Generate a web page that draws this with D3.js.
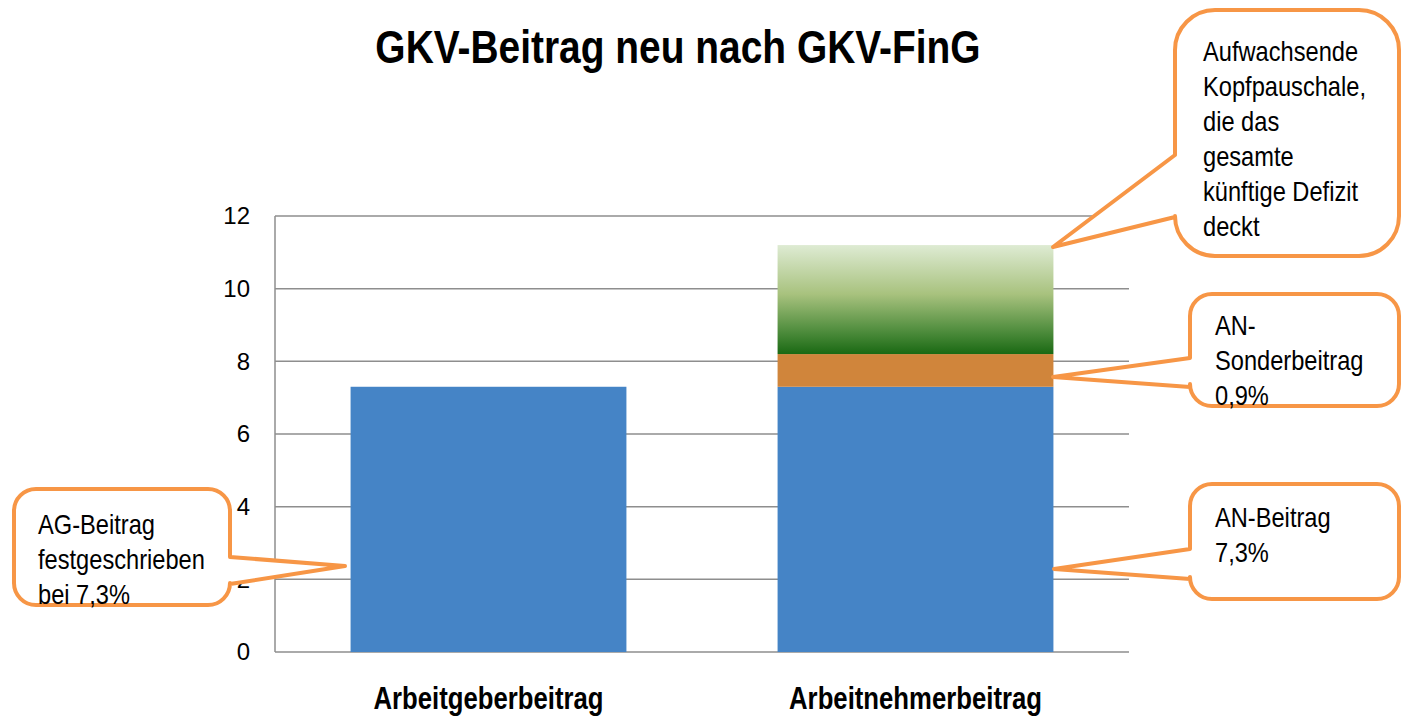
<!DOCTYPE html>
<html>
<head>
<meta charset="utf-8">
<script src="https://cdn.jsdelivr.net/npm/d3@7"></script>
<style>
  html, body { margin: 0; padding: 0; background: #fff; }
  svg { display: block; font-family: "Liberation Sans", Arial, sans-serif; }
</style>
</head>
<body>
<div id="chart"></div>
<script>
// data
const categories = ['Arbeitgeberbeitrag', 'Arbeitnehmerbeitrag'];
const beitrag = [7.3, 7.3];
const sonderbeitrag = [0, 0.9];
const kopfpauschale = [0, 3.0];
const yTicks = [0, 2, 4, 6, 8, 10, 12];
const title = 'GKV-Beitrag neu nach GKV-FinG';

const agText = ['AG-Beitrag', 'festgeschrieben', 'bei 7,3%'];
const kopfText = ['Aufwachsende', 'Kopfpauschale,', 'die das', 'gesamte', 'künftige Defizit', 'deckt'];
const sonderText = ['AN-', 'Sonderbeitrag', '0,9%'];
const anText = ['AN-Beitrag', '7,3%'];

const W = 1403, H = 718;
const NARROW = 0.83; // source font is a narrow sans

const svg = d3.select('#chart').append('svg')
  .attr('width', W).attr('height', H);

const x = d3.scaleBand().domain(categories).range([275, 1129])
  .paddingInner(0.354).paddingOuter(0.177);
const y = d3.scaleLinear().domain([0, 12]).range([652, 216]);

// gradient for the Kopfpauschale segment
const grad = svg.append('defs').append('linearGradient')
  .attr('id', 'kopfGrad').attr('x1', 0).attr('y1', 0).attr('x2', 0).attr('y2', 1);
[['0%', '#DEEBD3'], ['45%', '#A8C27E'], ['80%', '#4C8B3B'], ['100%', '#1A6913']]
  .forEach(([o, c]) => grad.append('stop').attr('offset', o).attr('stop-color', c));

// gridlines + axis frame
svg.append('g').selectAll('line').data(yTicks).enter().append('line')
  .attr('x1', 275).attr('x2', 1129)
  .attr('y1', d => y(d)).attr('y2', d => y(d))
  .attr('stroke', '#8E8E8E').attr('stroke-width', 1.5);
svg.append('line')
  .attr('x1', 275).attr('x2', 275).attr('y1', y(12)).attr('y2', y(0))
  .attr('stroke', '#8E8E8E').attr('stroke-width', 1.5);

// stacked bars
const table = categories.map((c, i) => ({
  cat: c, beitrag: beitrag[i], sonder: sonderbeitrag[i], kopf: kopfpauschale[i]
}));
const stack = d3.stack().keys(['beitrag', 'sonder', 'kopf'])(table);
const fills = { beitrag: '#4584C6', sonder: '#D0853B', kopf: 'url(#kopfGrad)' };

svg.append('g').selectAll('g').data(stack).enter().append('g')
  .attr('fill', d => fills[d.key])
  .selectAll('rect').data(d => d.filter(s => s[1] > s[0])).enter().append('rect')
  .attr('x', d => x(d.data.cat))
  .attr('width', x.bandwidth())
  .attr('y', d => y(d[1]))
  .attr('height', d => y(d[0]) - y(d[1]));

// y axis labels
const yAxis = svg.append('g').attr('transform', 'translate(275,0)')
  .call(d3.axisLeft(y).tickValues(yTicks).tickSize(0).tickPadding(25));
yAxis.select('.domain').remove();
yAxis.selectAll('text')
  .attr('font-family', '"Liberation Sans", Arial, sans-serif')
  .attr('font-size', 24).attr('fill', '#000');

// narrow text helper
function narrowText(g, str, tx, ty, size, opts = {}) {
  return g.append('text')
    .attr('transform', `translate(${tx},${ty}) scale(${NARROW},1)`)
    .attr('font-size', size)
    .attr('font-weight', opts.bold ? 'bold' : 'normal')
    .attr('text-anchor', opts.anchor || 'start')
    .attr('fill', '#000')
    .text(str);
}

// title + category labels
narrowText(svg, title, 678, 63, 46, { bold: true, anchor: 'middle' })
  .attr('transform', 'translate(678,63) scale(0.846,1)');
categories.forEach(c =>
  narrowText(svg, c, x(c) + x.bandwidth() / 2, 709, 31, { bold: true, anchor: 'middle' }));

// callouts
function calloutPath(b) {
  const { x0, y0, x1, y1, r, side, p1, p2, tip } = b;
  let p = `M${x0 + r},${y0}H${x1 - r}A${r},${r} 0 0 1 ${x1},${y0 + r}`;
  if (side === 'right') p += `V${p1}L${tip[0]},${tip[1]}L${x1},${p2}`;
  p += `V${y1 - r}A${r},${r} 0 0 1 ${x1 - r},${y1}H${x0 + r}A${r},${r} 0 0 1 ${x0},${y1 - r}`;
  if (side === 'left') p += `V${p2}L${tip[0]},${tip[1]}L${x0},${p1}`;
  p += `V${y0 + r}A${r},${r} 0 0 1 ${x0 + r},${y0}Z`;
  return p;
}

const callouts = [
  { lines: agText, tx: 38, ty: 534, x0: 14, y0: 489, x1: 230, y1: 605, r: 22,
    side: 'right', p1: 557, p2: 584, tip: [345, 566] },
  { lines: kopfText, tx: 1203, ty: 61, x0: 1175, y0: 10, x1: 1399, y1: 256, r: 40,
    side: 'left', p1: 155, p2: 217, tip: [1053, 247] },
  { lines: sonderText, tx: 1215, ty: 335, x0: 1190, y0: 294, x1: 1399, y1: 406, r: 22,
    side: 'left', p1: 358, p2: 387, tip: [1053, 377] },
  { lines: anText, tx: 1215, ty: 527, x0: 1190, y0: 484, x1: 1399, y1: 599, r: 22,
    side: 'left', p1: 549, p2: 579, tip: [1054, 569] }
];

const cg = svg.append('g').selectAll('g').data(callouts).enter().append('g');
cg.append('path')
  .attr('d', calloutPath)
  .attr('fill', '#fff')
  .attr('stroke', '#F79646').attr('stroke-width', 4)
  .attr('stroke-linejoin', 'round');
cg.each(function (d) {
  const g = d3.select(this);
  d.lines.forEach((s, i) => narrowText(g, s, d.tx, d.ty + i * 35, 28.5));
});
</script>
</body>
</html>
